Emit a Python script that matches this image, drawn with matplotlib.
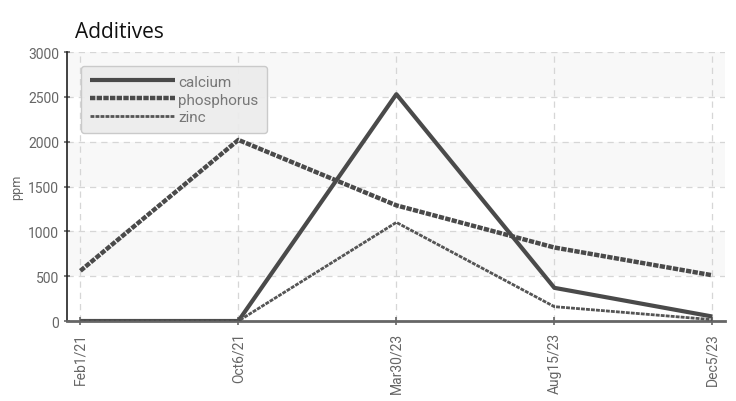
import matplotlib
matplotlib.use("Agg")
import matplotlib.pyplot as plt

plt.rcParams['font.family'] = ['Roboto', 'DejaVu Sans']

# Data
dates = ["Feb1/21", "Oct6/21", "Mar30/23", "Aug15/23", "Dec5/23"]
calcium = [0, 0, 2530, 370, 50]
phosphorus = [560, 2020, 1290, 820, 510]
zinc = [0, 0, 1100, 160, 15]
y_ticks = [0, 500, 1000, 1500, 2000, 2500, 3000]

line_color = "#4a4a4a"
text_color = "#666666"

fig = plt.figure(figsize=(7.36, 4.02), dpi=100)
ax = fig.add_axes([0.091, 0.199, 0.894, 0.669])

x = list(range(len(dates)))

# alternating background bands
for i in range(len(y_ticks) - 1):
    if i % 2 == 1:
        ax.axhspan(y_ticks[i], y_ticks[i + 1], color="#f8f8f8", zorder=0, lw=0)

ax.plot(x, calcium, color=line_color, lw=3.0, solid_capstyle="butt", label="calcium", zorder=3)
ax.plot(x, phosphorus, color=line_color, lw=3.2, linestyle=(0, (1.2, 0.3)), label="phosphorus", zorder=3)
ax.plot(x, zinc, color="#555555", lw=2.0, linestyle=(0, (1.4, 0.4)), label="zinc", zorder=3)

ax.set_xlim(-0.085, 4.08)
ax.set_ylim(0, 3000)
ax.set_yticks(y_ticks)
ax.set_xticks(x)
ax.set_xticklabels(dates, rotation=90)

ax.grid(True, color="#d6d6d6", linestyle=(0, (5, 4)), lw=0.9, zorder=1)
ax.set_axisbelow(True)

for s in ["top", "right"]:
    ax.spines[s].set_visible(False)
ax.spines["left"].set_color("#222222")
ax.spines["left"].set_linewidth(1.2)
ax.spines["bottom"].set_color("#666666")
ax.spines["bottom"].set_linewidth(2.0)

ax.tick_params(axis="y", colors=text_color, labelsize=10, length=4, width=1.2, direction="inout")
ax.tick_params(axis="x", colors=text_color, labelsize=10, length=6, width=1.2, direction="inout", pad=5)
for lab in ax.get_yticklabels() + ax.get_xticklabels():
    lab.set_color(text_color)

ax.set_ylabel("ppm", color=text_color, fontsize=9)

fig.text(0.102, 0.905, "Additives", fontsize=15, color="#111111", family=["Open Sans", "DejaVu Sans"])

leg = ax.legend(loc="upper left", bbox_to_anchor=(0.01, 0.975), fontsize=11,
                handlelength=5.6, handletextpad=0.2, labelspacing=0.25,
                frameon=True, fancybox=True, borderpad=0.55)
leg.get_frame().set_facecolor("#ececec")
leg.get_frame().set_edgecolor("#c8c8c8")
leg.get_frame().set_alpha(0.95)
for t in leg.get_texts():
    t.set_color("#777777")

fig.savefig("out.png", dpi=100)
